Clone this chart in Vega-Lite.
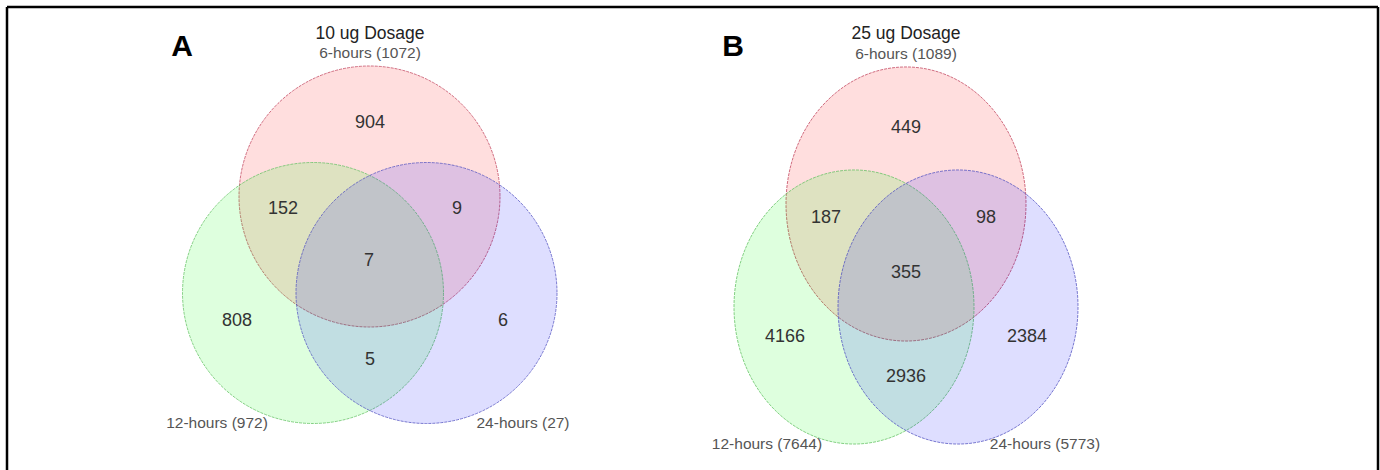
{
  "$schema": "https://vega.github.io/schema/vega-lite/v6.json",
  "width": 1380,
  "height": 470,
  "padding": 0,
  "autosize": {"type": "none"},
  "background": "white",
  "config": {"view": {"stroke": null}},
  "datasets": {
    "sets": [
      {"panel": "A", "set": "6-hours", "cx": 369.5, "cy": 196.5},
      {"panel": "A", "set": "12-hours", "cx": 313, "cy": 293},
      {"panel": "A", "set": "24-hours", "cx": 426.5, "cy": 293},
      {"panel": "B", "set": "6-hours", "cx": 906, "cy": 204},
      {"panel": "B", "set": "12-hours", "cx": 854, "cy": 307},
      {"panel": "B", "set": "24-hours", "cx": 958, "cy": 307}
    ],
    "texts": [
      {"panel": "A", "kind": "letter", "text": "A", "x": 182, "y": 47},
      {"panel": "A", "kind": "title", "text": "10 ug Dosage", "x": 370, "y": 34},
      {"panel": "A", "kind": "setlabel", "text": "6-hours (1072)", "x": 370, "y": 53},
      {"panel": "A", "kind": "count", "text": "904", "x": 370, "y": 123},
      {"panel": "A", "kind": "count", "text": "152", "x": 283, "y": 209},
      {"panel": "A", "kind": "count", "text": "9", "x": 457, "y": 209},
      {"panel": "A", "kind": "count", "text": "7", "x": 369, "y": 261},
      {"panel": "A", "kind": "count", "text": "808", "x": 237, "y": 321},
      {"panel": "A", "kind": "count", "text": "6", "x": 503, "y": 321},
      {"panel": "A", "kind": "count", "text": "5", "x": 370, "y": 360},
      {"panel": "A", "kind": "setlabel", "text": "12-hours (972)", "x": 217, "y": 423},
      {"panel": "A", "kind": "setlabel", "text": "24-hours (27)", "x": 523, "y": 423},
      {"panel": "B", "kind": "letter", "text": "B", "x": 733, "y": 47},
      {"panel": "B", "kind": "title", "text": "25 ug Dosage", "x": 906, "y": 34},
      {"panel": "B", "kind": "setlabel", "text": "6-hours (1089)", "x": 906, "y": 54},
      {"panel": "B", "kind": "count", "text": "449", "x": 906, "y": 128},
      {"panel": "B", "kind": "count", "text": "187", "x": 826, "y": 218},
      {"panel": "B", "kind": "count", "text": "98", "x": 986, "y": 218},
      {"panel": "B", "kind": "count", "text": "355", "x": 906, "y": 273},
      {"panel": "B", "kind": "count", "text": "4166", "x": 785, "y": 337},
      {"panel": "B", "kind": "count", "text": "2384", "x": 1027, "y": 337},
      {"panel": "B", "kind": "count", "text": "2936", "x": 906, "y": 377},
      {"panel": "B", "kind": "setlabel", "text": "12-hours (7644)", "x": 767, "y": 444},
      {"panel": "B", "kind": "setlabel", "text": "24-hours (5773)", "x": 1045, "y": 444}
    ],
    "frame": [
      {"side": "top", "x": 7, "y": 7, "x2": 1378, "y2": 7},
      {"side": "left", "x": 7, "y": 7, "x2": 7, "y2": 470},
      {"side": "right", "x": 1378, "y": 7, "x2": 1378, "y2": 470}
    ]
  },
  "layer": [
    {
      "data": {"name": "frame"},
      "mark": {"type": "rule", "color": "black", "strokeWidth": 2.5},
      "encoding": {
        "x": {"field": "x", "type": "quantitative", "scale": {"domain": [0, 1380], "nice": false, "zero": false}, "axis": null},
        "y": {"field": "y", "type": "quantitative", "scale": {"domain": [0, 470], "reverse": true, "nice": false, "zero": false}, "axis": null},
        "x2": {"field": "x2"},
        "y2": {"field": "y2"}
      }
    },
    {
      "data": {"name": "sets"},
      "transform": [{"filter": "datum.panel === 'A'"}],
      "mark": {"type": "point", "shape": "circle", "size": 68121, "filled": true, "fillOpacity": 0.13, "strokeWidth": 1, "strokeOpacity": 0.75, "strokeDash": [3, 1]},
      "encoding": {
        "x": {"field": "cx", "type": "quantitative", "axis": null},
        "y": {"field": "cy", "type": "quantitative", "axis": null},
        "fill": {"field": "set", "type": "nominal", "scale": {"domain": ["6-hours", "12-hours", "24-hours"], "range": ["#ff0000", "#00ff00", "#0000ff"]}, "legend": null},
        "stroke": {"field": "set", "type": "nominal", "scale": {"domain": ["6-hours", "12-hours", "24-hours"], "range": ["#c0405a", "#60c060", "#5050c0"]}, "legend": null},
        "order": {"field": "cy"}
      }
    },
    {
      "data": {"name": "sets"},
      "transform": [{"filter": "datum.panel === 'B'"}],
      "mark": {"type": "point", "shape": "M-1,0A1,1.142,0,1,1,1,0A1,1.142,0,1,1,-1,0Z", "size": 57600, "filled": true, "fillOpacity": 0.13, "strokeWidth": 1, "strokeOpacity": 0.75, "strokeDash": [3, 1]},
      "encoding": {
        "x": {"field": "cx", "type": "quantitative", "axis": null},
        "y": {"field": "cy", "type": "quantitative", "axis": null},
        "fill": {"field": "set", "type": "nominal", "legend": null},
        "stroke": {"field": "set", "type": "nominal", "legend": null},
        "order": {"field": "cy"}
      }
    },
    {
      "data": {"name": "texts"},
      "transform": [{"filter": "datum.kind === 'count'"}],
      "mark": {"type": "text", "font": "Liberation Sans", "fontSize": 18, "color": "#333333", "align": "center", "baseline": "middle"},
      "encoding": {
        "x": {"field": "x", "type": "quantitative"},
        "y": {"field": "y", "type": "quantitative"},
        "text": {"field": "text"}
      }
    },
    {
      "data": {"name": "texts"},
      "transform": [{"filter": "datum.kind === 'setlabel'"}],
      "mark": {"type": "text", "font": "Liberation Sans", "fontSize": 15.5, "color": "#555555", "align": "center", "baseline": "middle"},
      "encoding": {
        "x": {"field": "x", "type": "quantitative"},
        "y": {"field": "y", "type": "quantitative"},
        "text": {"field": "text"}
      }
    },
    {
      "data": {"name": "texts"},
      "transform": [{"filter": "datum.kind === 'title'"}],
      "mark": {"type": "text", "font": "Liberation Sans", "fontSize": 17.5, "color": "#222222", "align": "center", "baseline": "middle"},
      "encoding": {
        "x": {"field": "x", "type": "quantitative"},
        "y": {"field": "y", "type": "quantitative"},
        "text": {"field": "text"}
      }
    },
    {
      "data": {"name": "texts"},
      "transform": [{"filter": "datum.kind === 'letter'"}],
      "mark": {"type": "text", "font": "Liberation Sans", "fontSize": 30, "fontWeight": "bold", "color": "black", "align": "center", "baseline": "middle"},
      "encoding": {
        "x": {"field": "x", "type": "quantitative"},
        "y": {"field": "y", "type": "quantitative"},
        "text": {"field": "text"}
      }
    }
  ]
}
